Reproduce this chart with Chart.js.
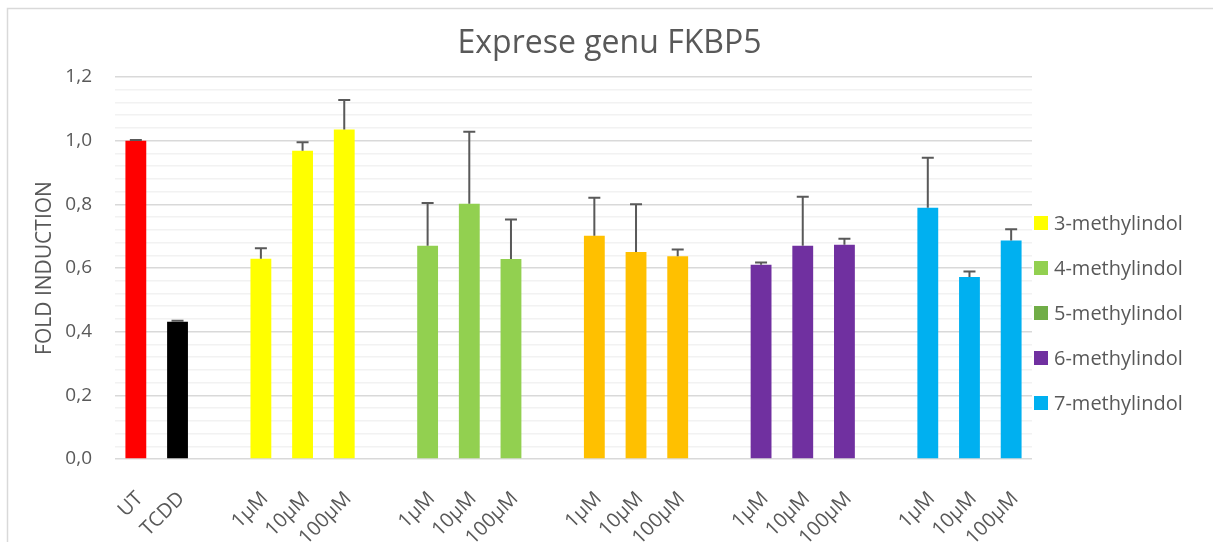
<!DOCTYPE html>
<html>
<head>
<meta charset="utf-8">
<script src="https://cdn.jsdelivr.net/npm/chart.js@4.4.0/dist/chart.umd.min.js"></script>
<style>
  html, body { margin: 0; padding: 0; background: #fff; overflow: hidden; }
</style>
</head>
<body>
<canvas id="fkbp5" width="1213" height="542"></canvas>
<script>
// categories (empty strings are the gaps between groups)
const labels = ['UT', 'TCDD', '',
  '1µM', '10µM', '100µM', '',
  '1µM', '10µM', '100µM', '',
  '1µM', '10µM', '100µM', '',
  '1µM', '10µM', '100µM', '',
  '1µM', '10µM', '100µM'];

// values
const ctrlValues = [1.000, 0.431];
const ctrlErr = [0.002, 0.003];
const m3Values = [0.629, 0.968, 1.035];
const m3Err = [0.033, 0.027, 0.093];
const m4Values = [0.670, 0.802, 0.628];
const m4Err = [0.134, 0.226, 0.124];
const m5Values = [0.701, 0.650, 0.637];
const m5Err = [0.120, 0.150, 0.021];
const m6Values = [0.610, 0.670, 0.673];
const m6Err = [0.007, 0.154, 0.019];
const m7Values = [0.789, 0.572, 0.686];
const m7Err = [0.157, 0.017, 0.036];

const legendNames = ['3-methylindol', '4-methylindol', '5-methylindol', '6-methylindol', '7-methylindol'];
const legendColors = ['#ffff00', '#92d050', '#70ad47', '#7030a0', '#00b0f0'];

const titleText = 'Exprese genu FKBP5';
const textColor = '#595959';
const font = "'Open Sans', sans-serif";

// put a group's values on its slots, null everywhere else
function place(values, start) {
  const arr = labels.map(() => null);
  values.forEach((v, i) => { arr[start + i] = v; });
  return arr;
}

const datasets = [
  { label: 'UT/TCDD', data: place(ctrlValues, 0), errors: place(ctrlErr, 0),
    backgroundColor: labels.map((l, i) => i === 0 ? '#ff0000' : '#000000') },
  { label: legendNames[0], data: place(m3Values, 3), errors: place(m3Err, 3), backgroundColor: '#ffff00' },
  { label: legendNames[1], data: place(m4Values, 7), errors: place(m4Err, 7), backgroundColor: '#92d050' },
  { label: legendNames[2], data: place(m5Values, 11), errors: place(m5Err, 11), backgroundColor: '#ffc000' },
  { label: legendNames[3], data: place(m6Values, 15), errors: place(m6Err, 15), backgroundColor: '#7030a0' },
  { label: legendNames[4], data: place(m7Values, 19), errors: place(m7Err, 19), backgroundColor: '#00b0f0' }
];

// white background, outer frame and the title (centred on the whole picture)
const frame = {
  id: 'frame',
  beforeDraw(chart) {
    const ctx = chart.ctx;
    ctx.save();
    ctx.fillStyle = '#fff';
    ctx.fillRect(0, 0, chart.width, chart.height);
    ctx.strokeStyle = '#d9d9d9';
    ctx.lineWidth = 1.5;
    ctx.strokeRect(7.5, 8.5, chart.width + 20, chart.height + 20);
    ctx.font = "32px " + font;
    ctx.fillStyle = textColor;
    ctx.textAlign = 'center';
    ctx.textBaseline = 'middle';
    ctx.fillText(titleText, chart.width / 2 + 3, 44);
    ctx.restore();
  }
};

// upper error bars
const errorBars = {
  id: 'errorBars',
  afterDatasetsDraw(chart) {
    const ctx = chart.ctx;
    const yScale = chart.scales.y;
    ctx.save();
    ctx.strokeStyle = '#595959';
    ctx.lineWidth = 2;
    chart.data.datasets.forEach((ds, i) => {
      const meta = chart.getDatasetMeta(i);
      meta.data.forEach((bar, j) => {
        const v = ds.data[j], e = ds.errors[j];
        if (v == null || e == null) return;
        const yTop = yScale.getPixelForValue(v + e);
        const yBar = yScale.getPixelForValue(v);
        ctx.beginPath();
        ctx.moveTo(bar.x, yBar);
        ctx.lineTo(bar.x, yTop);
        ctx.moveTo(bar.x - 6, yTop);
        ctx.lineTo(bar.x + 6, yTop);
        ctx.stroke();
      });
    });
    ctx.restore();
  }
};

// legend on the right (5-methylindol keeps its green swatch as in the original)
const sideLegend = {
  id: 'sideLegend',
  afterDraw(chart) {
    const ctx = chart.ctx;
    const x = chart.chartArea.right + 2;
    const y0 = chart.chartArea.top + 146;
    ctx.save();
    ctx.font = "20px " + font;
    ctx.textBaseline = 'middle';
    legendNames.forEach((name, i) => {
      const y = y0 + i * 45;
      ctx.fillStyle = legendColors[i];
      ctx.fillRect(x, y - 7, 14, 14);
      ctx.fillStyle = textColor;
      ctx.fillText(name, x + 20, y + 1);
    });
    ctx.restore();
  }
};

new Chart(document.getElementById('fkbp5'), {
  type: 'bar',
  data: { labels, datasets },
  plugins: [frame, errorBars, sideLegend],
  options: {
    responsive: false,
    animation: false,
    layout: { padding: { left: 28, right: 181, top: 77, bottom: 0 } },
    datasets: {
      bar: { grouped: false, skipNull: true, barPercentage: 0.5, categoryPercentage: 1.0 }
    },
    plugins: {
      legend: { display: false },
      tooltip: { enabled: false },
      title: { display: false }
    },
    scales: {
      x: {
        grid: { display: false },
        border: { display: false },
        ticks: {
          color: textColor,
          font: { family: font, size: 20 },
          minRotation: 45,
          maxRotation: 45,
          autoSkip: false,
          padding: 20,
          labelOffset: 4
        },
        afterFit(scale) { scale.height = 83; }
      },
      y: {
        min: 0,
        max: 1.2,
        border: { display: false },
        grid: {
          drawTicks: false,
          lineWidth: 1.5,
          color: ctx => Math.round(ctx.tick.value * 100) % 20 === 0 ? '#d9d9d9' : '#f2f2f2'
        },
        ticks: {
          stepSize: 0.04,
          maxTicksLimit: 100,
          autoSkip: false,
          color: textColor,
          font: { family: font, size: 19 },
          padding: 23,
          callback: v => Math.round(v * 100) % 20 === 0 ? v.toFixed(1).replace('.', ',') : ''
        },
        title: {
          display: true,
          text: 'FOLD INDUCTION',
          color: textColor,
          font: { family: font, size: 21 },
          padding: { top: 4, bottom: 0 }
        },
        afterFit(scale) { scale.width = 87; }
      }
    }
  }
});
</script>
</body>
</html>
